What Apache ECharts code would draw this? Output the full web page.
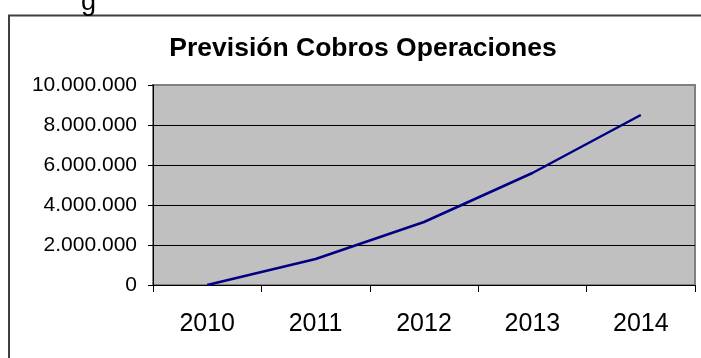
<!DOCTYPE html>
<html>
<head>
<meta charset="utf-8">
<script src="https://cdn.jsdelivr.net/npm/echarts@6/dist/echarts.min.js"></script>
<style>
  html, body { margin: 0; padding: 0; background: #fff; }
  #chart { width: 701px; height: 358px; }
</style>
</head>
<body>
<div id="chart"></div>
<script>
// Collection forecast per year (euros)
const years = ['2010', '2011', '2012', '2013', '2014'];
const cobros = [0, 1300000, 3150000, 5600000, 8500000];
const yTicks = { min: 0, max: 10000000, step: 2000000 };

const FONT = '"Liberation Sans", Arial, sans-serif';

// Thousands separated with dots, Spanish style
function miles(v) {
  return String(Math.round(v)).replace(/\B(?=(\d{3})+(?!\d))/g, '.');
}

const chart = echarts.init(document.getElementById('chart'), null, { renderer: 'canvas' });

chart.setOption({
  animation: false,
  backgroundColor: '#ffffff',
  title: {
    text: 'Previsión Cobros Operaciones',
    left: 358,
    top: 30,
    textAlign: 'center',
    textStyle: { fontFamily: FONT, fontSize: 26.5, fontWeight: 'bold', color: '#000' }
  },
  graphic: [
    // frame around the chart object
    {
      type: 'polyline',
      silent: true,
      shape: { points: [[9, 362], [9, 15.5], [705, 15.5]] },
      style: { stroke: '#404040', lineWidth: 2, fill: null }
    },
    // descender of the caption line above the frame
    {
      type: 'text',
      silent: true,
      left: 81,
      top: -11,
      style: { text: 'g', font: '27px ' + FONT, fill: '#000' }
    }
  ],
  grid: {
    left: 153,
    top: 85,
    right: 6,
    bottom: 73,
    show: true,
    backgroundColor: '#c0c0c0',
    borderColor: '#808080',
    borderWidth: 2
  },
  xAxis: {
    type: 'category',
    data: years,
    boundaryGap: true,
    axisLine: { show: true, lineStyle: { color: '#000', width: 1 } },
    axisTick: { show: true, length: 7, lineStyle: { color: '#000' } },
    axisLabel: { fontFamily: FONT, fontSize: 25, color: '#000', margin: 27 },
    splitLine: { show: false }
  },
  yAxis: {
    type: 'value',
    min: yTicks.min,
    max: yTicks.max,
    interval: yTicks.step,
    axisLine: { show: true, lineStyle: { color: '#000', width: 1 } },
    axisTick: { show: true, length: 5, lineStyle: { color: '#000' } },
    axisLabel: { fontFamily: FONT, fontSize: 21, color: '#000', margin: 16, formatter: miles },
    splitLine: { show: true, showMinLine: false, showMaxLine: false, lineStyle: { color: '#000', width: 1 } }
  },
  series: [{
    type: 'line',
    data: cobros,
    showSymbol: false,
    symbol: 'none',
    lineStyle: { color: '#000080', width: 2.5 },
    itemStyle: { color: '#000080' }
  }]
});
</script>
</body>
</html>
